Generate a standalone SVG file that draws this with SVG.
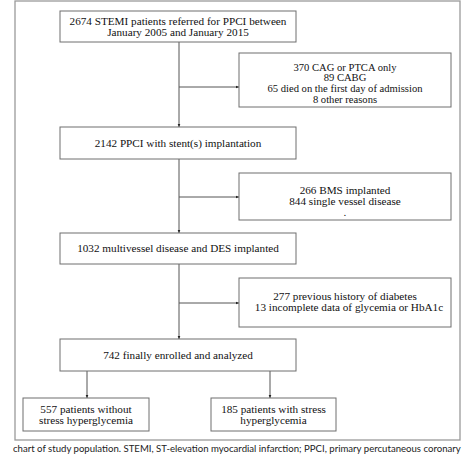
<svg xmlns="http://www.w3.org/2000/svg" width="474" height="455" viewBox="0 0 474 455">
<style>
.box{fill:#fff;stroke:#6e6e6e;stroke-width:1}
.t{font-family:"Liberation Serif","Times New Roman",serif;font-size:11.2px;fill:#111;text-anchor:middle}
.s{font-size:10.6px}
.c{stroke:#555;stroke-width:1;fill:none}
.cap{font-family:Lato,"Liberation Sans",sans-serif;font-size:9.6px;fill:#222}
</style>
<defs>
<marker id="ah" markerWidth="4" markerHeight="4" refX="3.5" refY="2" orient="auto" markerUnits="userSpaceOnUse">
<path d="M0,0.5 L3.5,2 L0,3.5 Z" fill="#222"/>
</marker>
</defs>
<rect x="0" y="0" width="474" height="455" fill="#fff"/>
<rect x="15" y="1" width="445" height="439" fill="none" stroke="#9a9a9a" stroke-width="1.3"/>
<g id="connectors">
<line class="c" x1="179" y1="42" x2="179" y2="127" marker-end="url(#ah)"/>
<line class="c" x1="179" y1="87" x2="239" y2="87" marker-end="url(#ah)"/>
<line class="c" x1="179" y1="159" x2="179" y2="233" marker-end="url(#ah)"/>
<line class="c" x1="179" y1="197" x2="239" y2="197" marker-end="url(#ah)"/>
<line class="c" x1="179" y1="264" x2="179" y2="339" marker-end="url(#ah)"/>
<line class="c" x1="179" y1="303" x2="239" y2="303" marker-end="url(#ah)"/>
<line class="c" x1="87" y1="371" x2="87" y2="398" marker-end="url(#ah)"/>
<line class="c" x1="270" y1="371" x2="270" y2="398" marker-end="url(#ah)"/>
</g>
<g id="n1">
<rect class="box" x="60" y="11" width="236" height="31"/>
<text class="t" x="178" y="25">2674 STEMI patients referred for PPCI between</text>
<text class="t" x="178" y="36">January 2005 and January 2015</text>
</g>
<g id="n2">
<rect class="box" x="239" y="53" width="212" height="54"/>
<text class="t s" x="345" y="70.5">370 CAG or PTCA only</text>
<text class="t s" x="345" y="81.2">89 CABG</text>
<text class="t s" x="345" y="91.9">65 died on the first day of admission</text>
<text class="t s" x="345" y="102.6">8 other reasons</text>
</g>
<g id="n3">
<rect class="box" x="60" y="127" width="236" height="32"/>
<text class="t" x="178" y="146.5">2142 PPCI with stent(s) implantation</text>
</g>
<g id="n4">
<rect class="box" x="239" y="173" width="212" height="47"/>
<text class="t" x="345" y="194">266 BMS implanted</text>
<text class="t" x="345" y="205">844 single vessel disease</text>
<text class="t" x="345" y="216">.</text>
</g>
<g id="n5">
<rect class="box" x="60" y="233" width="236" height="31"/>
<text class="t" x="178" y="252">1032 multivessel disease and DES implanted</text>
</g>
<g id="n6">
<rect class="box" x="239" y="278" width="212" height="49"/>
<text class="t" x="345" y="300">277 previous history of diabetes</text>
<text class="t" x="349" y="311">13 incomplete data of glycemia or HbA1c</text>
</g>
<g id="n7">
<rect class="box" x="60" y="339" width="236" height="32"/>
<text class="t" x="178" y="358.5">742 finally enrolled and analyzed</text>
</g>
<g id="n8">
<rect class="box" x="23" y="398" width="126" height="33"/>
<text class="t" x="86" y="413">557 patients without</text>
<text class="t" x="86" y="424">stress hyperglycemia</text>
</g>
<g id="n9">
<rect class="box" x="211" y="398" width="125" height="33"/>
<text class="t" x="273.5" y="413">185 patients with stress</text>
<text class="t" x="273.5" y="424">hyperglycemia</text>
</g>
<text class="cap" x="13" y="452.3">chart of study population. STEMI, ST-elevation myocardial infarction; PPCI, primary percutaneous coronary</text>
</svg>
